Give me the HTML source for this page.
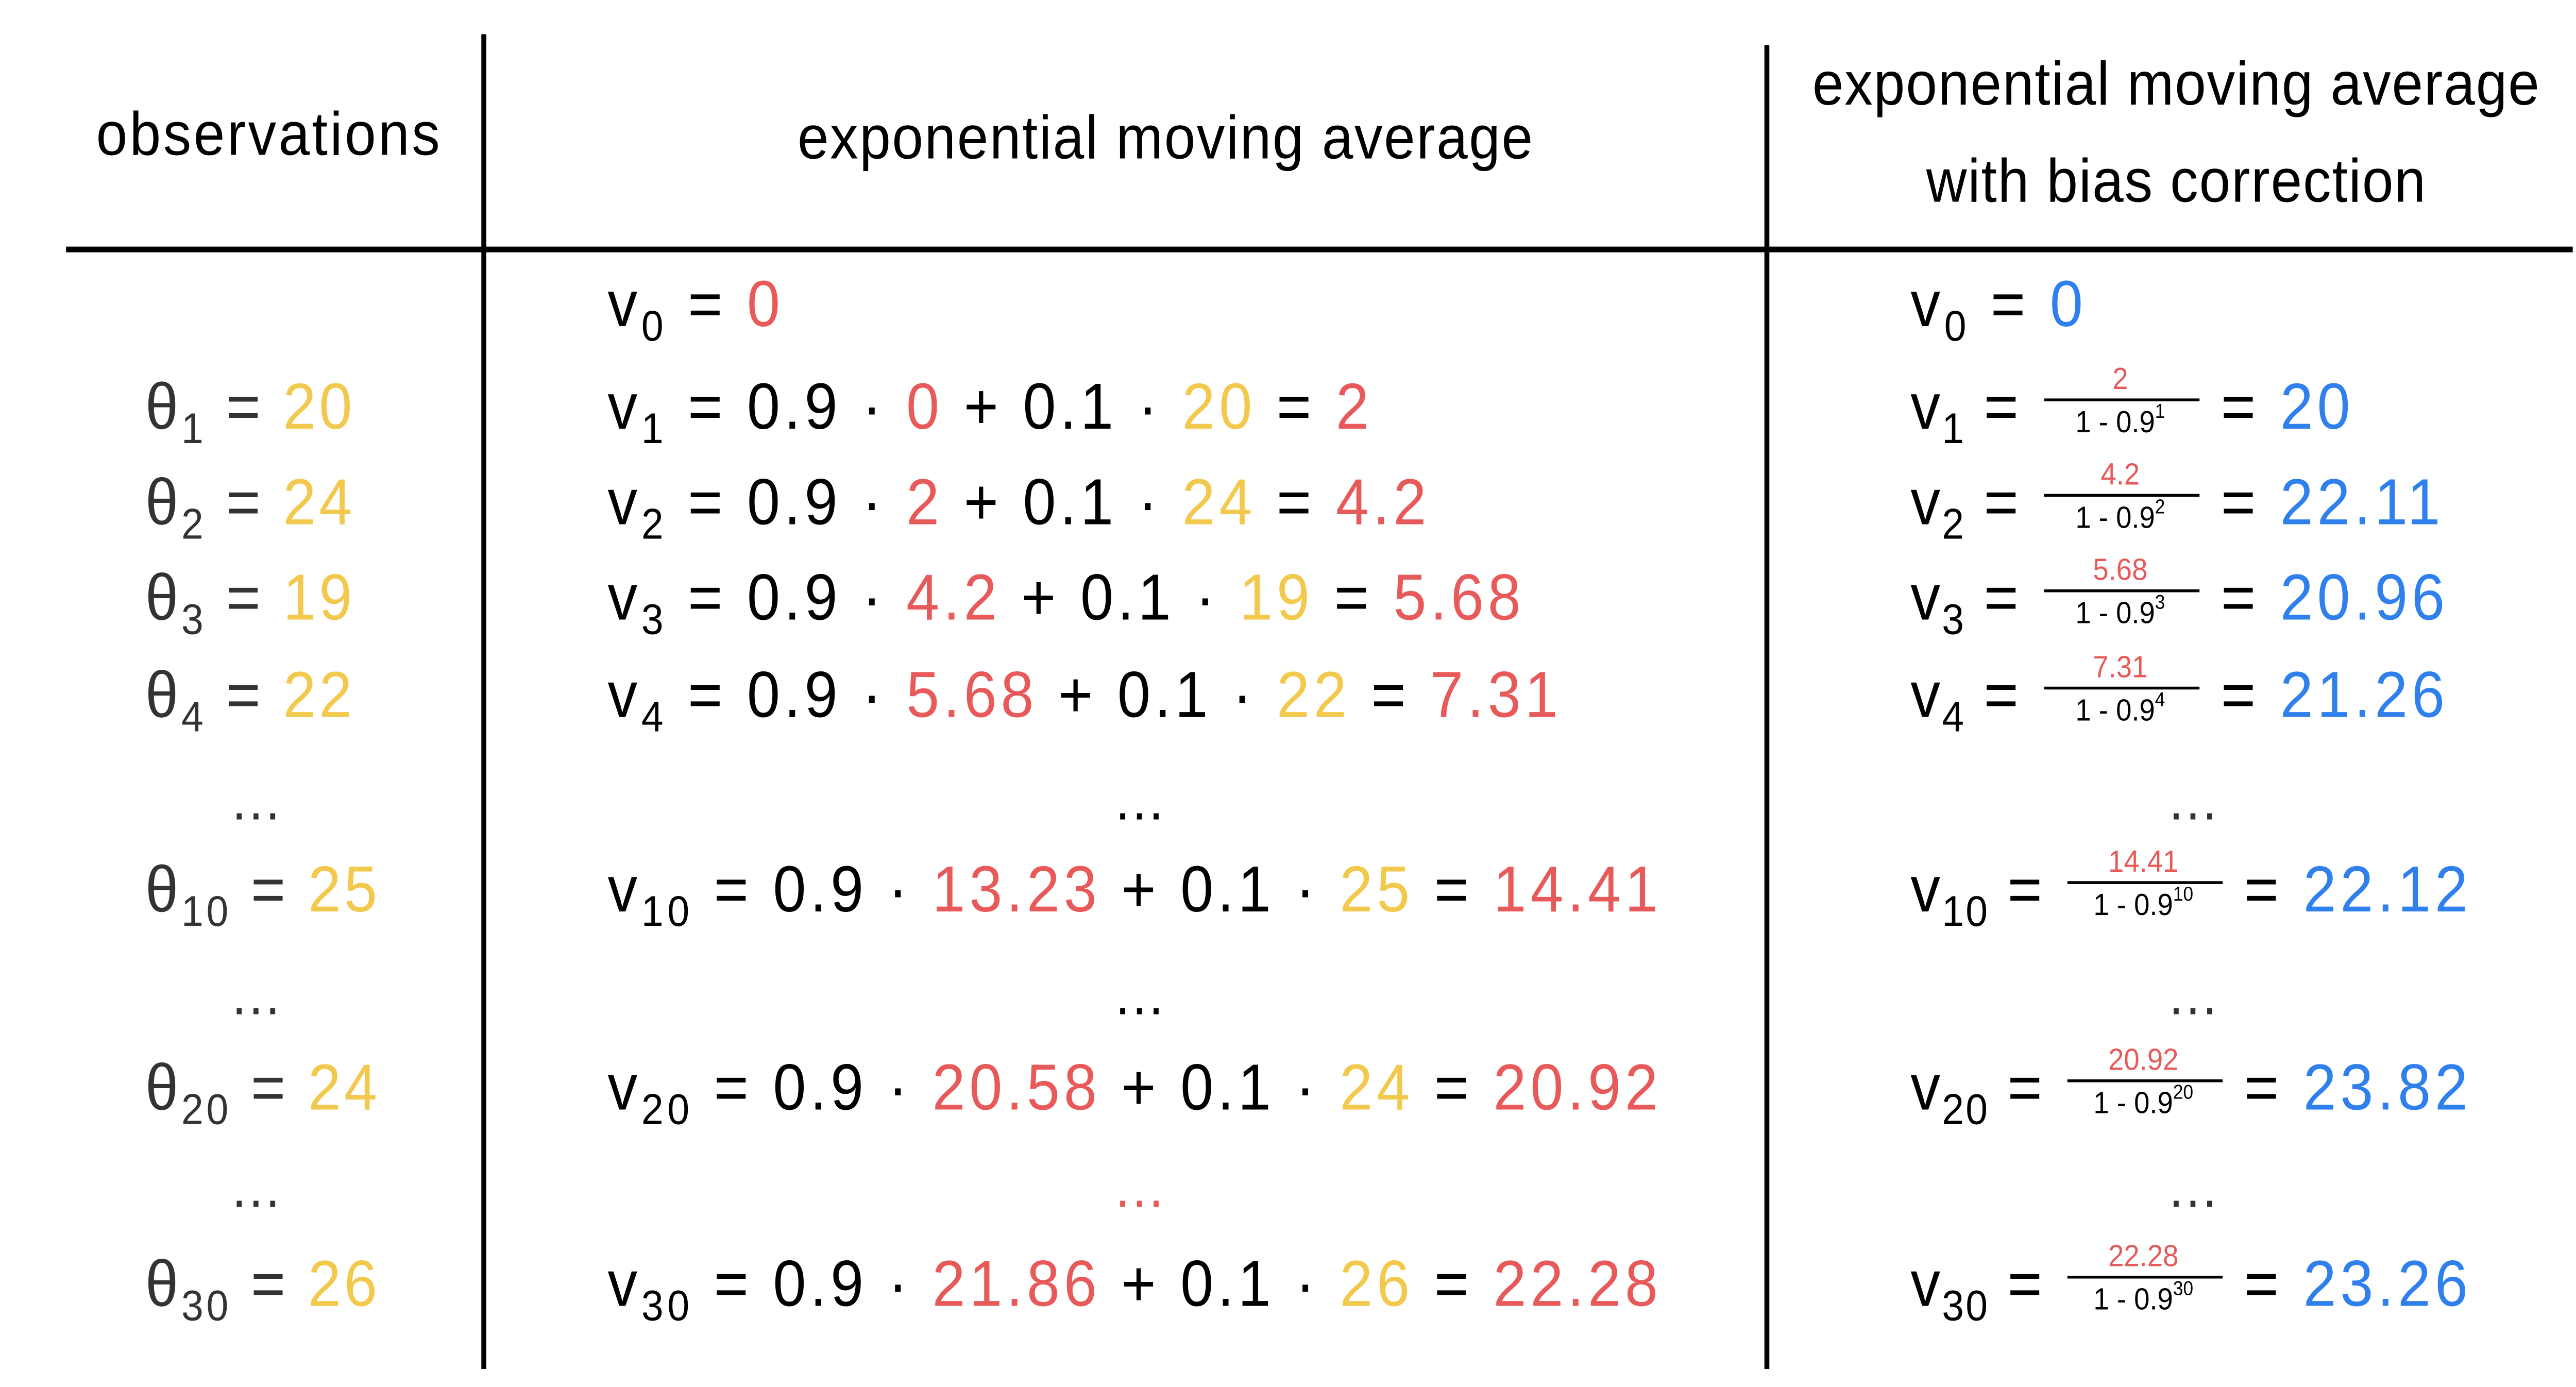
<!DOCTYPE html>
<html><head><meta charset="utf-8"><style>
html,body{margin:0;padding:0;background:#fff;width:100%;height:100%;overflow:hidden;}
svg{display:block;position:fixed;left:0;top:0;width:100vw;height:100vh;}
text{font-family:"Liberation Sans",sans-serif;}
</style></head><body>
<svg viewBox="0 0 1560 770" preserveAspectRatio="none" xmlns="http://www.w3.org/2000/svg">
<rect width="1560" height="770" fill="#fff"/>
<line x1="40" y1="138.5" x2="1558" y2="138.5" stroke="#000" stroke-width="3.2"/>
<line x1="293" y1="19" x2="293" y2="760" stroke="#000" stroke-width="3"/>
<line x1="1070" y1="25" x2="1070" y2="760" stroke="#000" stroke-width="3"/>

<g font-size="34" fill="#000" text-anchor="middle">
<text x="163" y="86" letter-spacing="1.4">observations</text>
<text x="706" y="88" letter-spacing="0.8">exponential moving average</text>
<text x="1318" y="58" letter-spacing="0.6">exponential moving average</text>
<text x="1318" y="112" letter-spacing="0.6">with bias correction</text>
</g>

<g id="content" font-size="36"></g>
</svg>
<script>
const obsIdx=[1,2,3,4,10,20,30];
const obsVal=['20','24','19','22','25','24','26'];
const rowY=[238,291,344,398,506,616,725];
const prevV=['0','2','4.2','5.68','13.23','20.58','21.86'];
const curV=['2','4.2','5.68','7.31','14.41','20.92','22.28'];
const corrV=['20','22.11','20.96','21.26','22.12','23.82','23.26'];
const RED='#e85a5a',YEL='#f2c94c',BLU='#2f80ed',BLK='#000',GRY='#333';
const NS='http://www.w3.org/2000/svg';
const g=document.getElementById('content');
function txt(x,y,parts,name,size,ls){
  const t=document.createElementNS(NS,'text');
  t.setAttribute('x',x);t.setAttribute('y',y);
  if(size)t.setAttribute('font-size',size);
  if(ls)t.setAttribute('letter-spacing',ls);
  
  
  let dyAcc=0;
  parts.forEach(p=>{
    const s=document.createElementNS(NS,'tspan');
    s.textContent=p[0];
    s.setAttribute('fill',p[1]||BLK);
    if(p[2]){s.setAttribute('font-size',p[2]);}
    const want=p[3]||0;
    if(want!==dyAcc){s.setAttribute('dy',want-dyAcc);dyAcc=want;}
    t.appendChild(s);
  });
  g.appendChild(t);return t;
}
txt(368,181,[['v'],['0',BLK,24,8],[' = ',BLK,null,0],['0',RED]],'ema-v0',null,2.4);
txt(1157,181,[['v'],['0',BLK,24,8],[' = ',BLK,null,0],['0',BLU]],'bias-v0',null,2.4);
for(let i=0;i<obsIdx.length;i++){
  const y=rowY[i],n=obsIdx[i];
  const off=n>=10?14:0;
  txt(88,y,[['θ',GRY],[String(n),GRY,24,8],[' = ',GRY,null,0],[obsVal[i],YEL]],'observation-theta'+n,null,1.8);
  txt(368,y,[['v'],[String(n),BLK,24,8],[' = 0.9 · ',BLK,null,0],[prevV[i],RED],[' + 0.1 · '],[obsVal[i],YEL],[' = '],[curV[i],RED]],'ema-v'+n,null,2.4);
  txt(1157,y,[['v'],[String(n),BLK,24,8],[' = ',BLK,null,0]],'bias-v'+n+'-label',null,1);
  const num=txt(1284+off,y-22,[[curV[i],RED]],'bias-v'+n+'-numerator',17);
  num.setAttribute('text-anchor','middle');
  const bar=document.createElementNS(NS,'line');
  bar.setAttribute('x1',1238+off);bar.setAttribute('x2',1332+off);
  bar.setAttribute('y1',y-16);bar.setAttribute('y2',y-16);
  bar.setAttribute('stroke','#000');bar.setAttribute('stroke-width',1.6);
  
  
  g.appendChild(bar);
  const den=txt(1284+off,y+2,[['1 - 0.9'],[String(n),BLK,11,-8]],'bias-v'+n+'-denominator',17);
  den.setAttribute('text-anchor','middle');
  txt(1345+off,y,[['= '],[corrV[i],BLU]],'bias-v'+n+'-value',null,2.4);
}
const dotY=[455,563,670];
const dotCol2=[BLK,BLK,RED];
for(let k=0;k<dotY.length;k++){
  [[155,GRY,'observation-ellipsis'],[690,dotCol2[k],'ema-ellipsis'],[1328,GRY,'bias-ellipsis']].forEach(c=>{
    const t=txt(c[0],dotY[k],[['…',c[1]]],c[2]+'-'+(k+1),32);
    t.setAttribute('text-anchor','middle');
  });
}
</script>
</body></html>
